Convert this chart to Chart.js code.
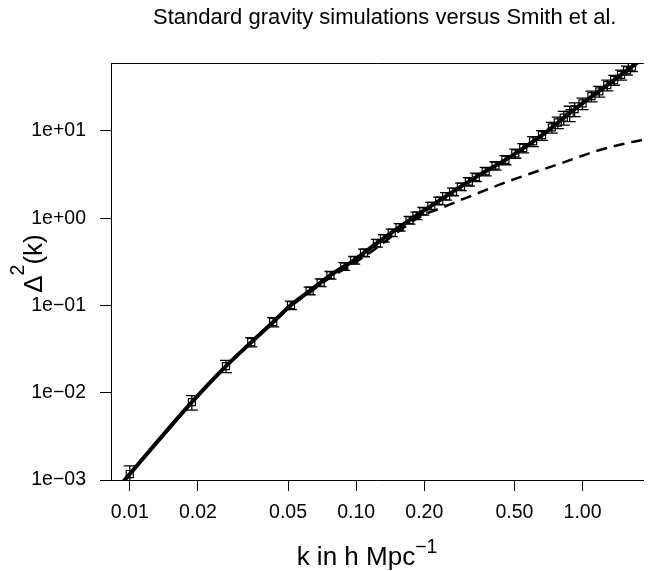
<!DOCTYPE html>
<html>
<head>
<meta charset="utf-8">
<script src="https://cdn.jsdelivr.net/npm/chart.js@4.4.1/dist/chart.umd.min.js"></script>
<style>
  html, body { margin: 0; padding: 0; background: #fff; }
  #wrap { width: 650px; height: 571px; }
</style>
</head>
<body>
<div id="wrap"><canvas id="chart" width="650" height="571"></canvas></div>
<script>
// simulation points: k (h/Mpc), Delta^2(k), relative error
const simK = [0.0100, 0.0188, 0.0266, 0.0344, 0.0430, 0.0515, 0.0623, 0.0697, 0.0770, 0.0886,
              0.0980, 0.1083, 0.1235, 0.1326, 0.1436, 0.1556, 0.1721, 0.1846, 0.1981, 0.2147,
              0.2326, 0.2496, 0.2678, 0.2904, 0.3146, 0.3377, 0.3733, 0.4126, 0.4564, 0.5047,
              0.5470, 0.6048, 0.6622, 0.7323, 0.7776, 0.8260, 0.8774, 0.9228, 1.000, 1.095,
              1.186, 1.286, 1.379, 1.480, 1.572, 1.653];
const simDelta = [0.00117, 0.0078, 0.0202, 0.0381, 0.0646, 0.101, 0.1475, 0.183, 0.223, 0.281,
                  0.331, 0.402, 0.519, 0.590, 0.682, 0.790, 0.951, 1.07, 1.206, 1.384,
                  1.586, 1.787, 2.01, 2.30, 2.63, 2.96, 3.44, 4.00, 4.66, 5.53,
                  6.38, 7.62, 8.95, 11.0, 12.5, 14.2, 16.0, 17.8, 20.7, 25.1,
                  28.4, 33.5, 38.4, 44.0, 49.5, 54.5];
const simErr = [0.24, 0.19, 0.16, 0.12, 0.12, 0.11, 0.10, 0.10, 0.10, 0.10,
                0.10, 0.10, 0.10, 0.10, 0.10, 0.10, 0.10, 0.10, 0.10, 0.10,
                0.10, 0.10, 0.10, 0.10, 0.11, 0.11, 0.11, 0.11, 0.12, 0.12,
                0.12, 0.13, 0.13, 0.14, 0.15, 0.18, 0.20, 0.18, 0.15, 0.14,
                0.14, 0.14, 0.13, 0.13, 0.12, 0.12];

// Smith et al. non-linear fit (solid)
const fitK = [0.0090, 0.0095, 0.0100, 0.0188, 0.0266, 0.0345, 0.0430, 0.0515, 0.0630, 0.0770,
              0.0980, 0.1235, 0.1720, 0.2420, 0.3380, 0.4700, 0.6620, 0.9230, 1.2860, 1.6870, 1.9000];
const fitDelta = [0.00086, 0.00100, 0.00117, 0.0078, 0.0202, 0.0381, 0.0646, 0.101, 0.150, 0.223,
                  0.331, 0.519, 0.951, 1.70, 2.96, 4.88, 8.95, 17.8, 33.5, 56.7, 72];

// linear theory (dashed)
const linK = [0.0090, 0.0095, 0.0100, 0.0188, 0.0266, 0.0344, 0.0430, 0.0515, 0.0630, 0.0770,
              0.0980, 0.1235, 0.1510, 0.1900, 0.2496, 0.3146, 0.4800, 0.8010, 1.1400, 1.6040, 1.9000];
const linDelta = [0.00086, 0.00100, 0.00116, 0.0077, 0.0199, 0.0375, 0.0635, 0.098, 0.144, 0.210,
                  0.305, 0.46, 0.68, 1.03, 1.38, 1.76, 2.70, 4.25, 5.85, 7.35, 8.0];

const xTicks = [0.01, 0.02, 0.05, 0.1, 0.2, 0.5, 1];
const xTickLabels = ['0.01', '0.02', '0.05', '0.10', '0.20', '0.50', '1.00'];
const yTicks = [1e-3, 1e-2, 1e-1, 1, 10];
const yTickLabels = ['1e\u221203', '1e\u221202', '1e\u221201', '1e+00', '1e+01'];

const titleText = 'Standard gravity simulations versus Smith et al.';
const fontFamily = '"Liberation Sans", Arial, Helvetica, sans-serif';

const errorBars = {
    id: 'errorBars',
    beforeDatasetsDraw: function (chart) {
        const ctx = chart.ctx, xs = chart.scales.x, ys = chart.scales.y, a = chart.chartArea;
        ctx.save();
        ctx.beginPath();
        ctx.rect(a.left, a.top, a.right - a.left, a.bottom - a.top);
        ctx.clip();
        ctx.strokeStyle = '#000';
        ctx.lineWidth = 1.3;
        simK.forEach(function (k, i) {
            const px = xs.getPixelForValue(k);
            const lo = ys.getPixelForValue(simDelta[i] * (1 - simErr[i]));
            const hi = ys.getPixelForValue(simDelta[i] * (1 + simErr[i]));
            ctx.beginPath();
            ctx.moveTo(px, lo); ctx.lineTo(px, hi);
            ctx.moveTo(px - 6, lo); ctx.lineTo(px + 6, lo);
            ctx.moveTo(px - 6, hi); ctx.lineTo(px + 6, hi);
            ctx.stroke();
        });
        ctx.restore();
    }
};

const axisText = {
    id: 'axisText',
    afterDraw: function (chart) {
        const ctx = chart.ctx, a = chart.chartArea;
        ctx.save();
        // top of the box
        ctx.strokeStyle = '#000';
        ctx.lineWidth = 1;
        ctx.beginPath();
        ctx.moveTo(a.left, a.top + 0.5);
        ctx.lineTo(a.right, a.top + 0.5);
        ctx.stroke();

        ctx.fillStyle = '#000';
        ctx.textBaseline = 'alphabetic';
        ctx.textAlign = 'left';

        // main title
        ctx.font = '22px ' + fontFamily;
        ctx.fillText(titleText, 153, 24);

        // x label: k in h Mpc^-1
        const big = '26px ' + fontFamily, small = '19.5px ' + fontFamily;
        ctx.font = big;
        const xb = 'k in h Mpc', wb = ctx.measureText(xb).width;
        ctx.font = small;
        const xs = '\u22121', ws = ctx.measureText(xs).width;
        let sx = 367 - (wb + ws) / 2;
        ctx.font = big;
        ctx.fillText(xb, sx, 565);
        ctx.font = small;
        ctx.fillText(xs, sx + wb, 553);

        // y label: Delta^2(k)
        ctx.translate(42, 263.5);
        ctx.rotate(-Math.PI / 2);
        ctx.font = big;
        const wd = ctx.measureText('\u0394').width, wk = ctx.measureText('(k)').width;
        ctx.font = small;
        const w2 = ctx.measureText('2').width;
        const s = -(wd + w2 + wk) / 2;
        ctx.font = big;
        ctx.fillText('\u0394', s, 0);
        ctx.font = small;
        ctx.fillText('2', s + wd, -18);
        ctx.font = big;
        ctx.fillText('(k)', s + wd + w2, 0);
        ctx.restore();
    }
};

const tickFont = { family: fontFamily, size: 19.5 };

new Chart(document.getElementById('chart'), {
    type: 'scatter',
    data: {
        datasets: [{
            label: 'Smith et al.',
            data: fitK.map((k, i) => ({ x: k, y: fitDelta[i] })),
            showLine: true,
            borderColor: '#000',
            borderWidth: 4,
            pointRadius: 0,
            cubicInterpolationMode: 'monotone',
            order: 1
        }, {
            label: 'linear',
            data: linK.map((k, i) => ({ x: k, y: linDelta[i] })),
            showLine: true,
            borderColor: '#000',
            borderWidth: 2.5,
            borderDash: [11, 7],
            pointRadius: 0,
            cubicInterpolationMode: 'monotone',
            order: 2
        }, {
            label: 'simulations',
            data: simK.map((k, i) => ({ x: k, y: simDelta[i] })),
            showLine: false,
            pointStyle: 'rect',
            pointRadius: 5,
            pointBorderWidth: 1.2,
            pointBorderColor: '#000',
            pointBackgroundColor: 'rgba(0,0,0,0)',
            order: 3
        }]
    },
    options: {
        responsive: false,
        animation: false,
        devicePixelRatio: 1,
        events: [],
        layout: { padding: { top: 63, left: 0, right: 0, bottom: 0 } },
        plugins: {
            legend: { display: false },
            tooltip: { enabled: false },
            title: { display: false }
        },
        scales: {
            x: {
                type: 'logarithmic',
                min: 0.00826,
                max: 1.865,
                afterFit: function (s) { s.height = 91; },
                afterBuildTicks: function (s) { s.ticks = xTicks.map(v => ({ value: v })); },
                ticks: {
                    autoSkip: false, maxRotation: 0, minRotation: 0, padding: 10,
                    color: '#000', font: tickFont,
                    callback: function (v, i) { return xTickLabels[i]; }
                },
                grid: { drawOnChartArea: false, tickLength: 11, color: '#000', lineWidth: 1 },
                border: { display: true, color: '#000', width: 1 }
            },
            y: {
                type: 'logarithmic',
                min: 1e-3,
                max: 60.1,
                afterFit: function (s) { s.width = 111; },
                afterBuildTicks: function (s) { s.ticks = yTicks.map(v => ({ value: v })); },
                ticks: {
                    autoSkip: false, padding: 14,
                    color: '#000', font: tickFont,
                    callback: function (v, i) { return yTickLabels[i]; }
                },
                grid: { drawOnChartArea: false, tickLength: 11, color: '#000', lineWidth: 1 },
                border: { display: true, color: '#000', width: 1 }
            }
        }
    },
    plugins: [errorBars, axisText]
});
</script>
</body>
</html>
